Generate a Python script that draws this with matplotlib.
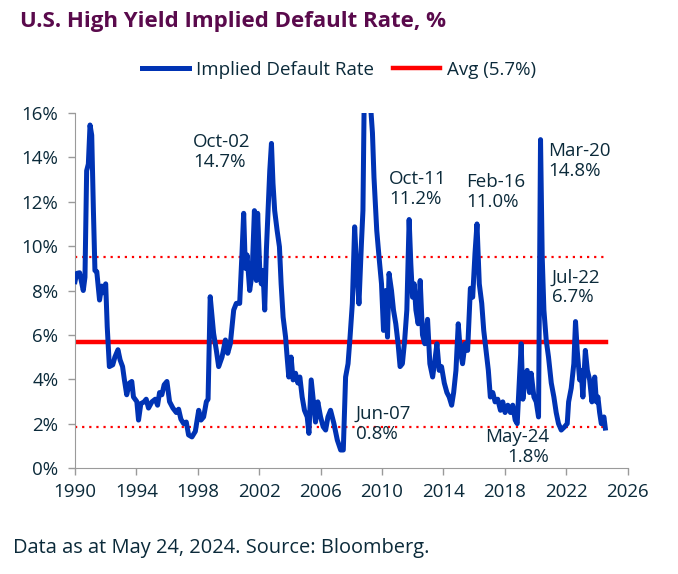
import matplotlib
matplotlib.use('Agg')
from matplotlib import pyplot as plt

# implied default rate (decimal year, %)
years = [
    1990.0, 1990.11, 1990.3, 1990.54, 1990.65, 1990.76, 1990.87, 1990.98, 1991.09, 1991.2,
    1991.3, 1991.42, 1991.6, 1991.74, 1991.85, 1992.0, 1992.1, 1992.24, 1992.46, 1992.6,
    1992.8, 1992.94, 1993.1, 1993.22, 1993.37, 1993.55, 1993.7, 1993.81, 1994.03, 1994.14,
    1994.29, 1994.5, 1994.64, 1994.79, 1995.01, 1995.23, 1995.38, 1995.51, 1995.66, 1995.81,
    1995.99, 1996.16, 1996.38, 1996.6, 1996.75, 1996.9, 1997.08, 1997.25, 1997.4, 1997.62,
    1997.84, 1998.06, 1998.21, 1998.38, 1998.56, 1998.67, 1998.81, 1999.03, 1999.21, 1999.36,
    1999.58, 1999.8, 1999.95, 2000.12, 2000.34, 2000.51, 2000.73, 2000.88, 2000.99, 2001.1,
    2001.21, 2001.38, 2001.54, 2001.69, 2001.82, 2001.9, 2002.03, 2002.14, 2002.25, 2002.36,
    2002.47, 2002.58, 2002.69, 2002.8, 2002.9, 2003.01, 2003.17, 2003.32, 2003.43, 2003.56,
    2003.72, 2003.82, 2003.93, 2004.08, 2004.21, 2004.37, 2004.52, 2004.65, 2004.8, 2004.95,
    2005.13, 2005.24, 2005.39, 2005.52, 2005.67, 2005.82, 2006.0, 2006.17, 2006.33, 2006.48,
    2006.65, 2006.87, 2007.09, 2007.31, 2007.48, 2007.63, 2007.79, 2007.92, 2008.07, 2008.22,
    2008.35, 2008.5, 2008.66, 2008.76, 2008.84, 2009.0, 2009.15, 2009.27, 2009.38, 2009.48,
    2009.66, 2009.81, 2009.97, 2010.1, 2010.25, 2010.36, 2010.46, 2010.62, 2010.75, 2010.9,
    2011.05, 2011.18, 2011.33, 2011.48, 2011.62, 2011.77, 2011.88, 2011.99, 2012.1, 2012.21,
    2012.36, 2012.49, 2012.64, 2012.79, 2012.97, 2013.12, 2013.3, 2013.45, 2013.58, 2013.73,
    2013.88, 2014.06, 2014.23, 2014.38, 2014.54, 2014.67, 2014.82, 2014.97, 2015.1, 2015.25,
    2015.41, 2015.58, 2015.76, 2015.91, 2016.06, 2016.19, 2016.34, 2016.5, 2016.63, 2016.78,
    2016.93, 2017.06, 2017.22, 2017.37, 2017.54, 2017.72, 2017.87, 2018.02, 2018.2, 2018.37,
    2018.52, 2018.68, 2018.81, 2018.96, 2019.07, 2019.18, 2019.33, 2019.46, 2019.61, 2019.72,
    2019.9, 2020.05, 2020.2, 2020.33, 2020.44, 2020.55, 2020.7, 2020.85, 2021.03, 2021.2,
    2021.35, 2021.5, 2021.68, 2021.9, 2022.07, 2022.16, 2022.33, 2022.5, 2022.61, 2022.72,
    2022.88, 2022.98, 2023.09, 2023.25, 2023.38, 2023.53, 2023.68, 2023.86, 2023.97, 2024.07,
    2024.18, 2024.29, 2024.46, 2024.55,
]
rate = [
    8.4, 8.77, 8.8, 8.0, 8.6, 13.4, 13.7, 15.46, 15.0, 11.6,
    8.9, 8.85, 7.57, 8.2, 7.9, 8.3, 6.37, 4.57, 4.65, 5.0,
    5.33, 4.87, 4.57, 3.97, 3.3, 3.83, 3.9, 3.2, 2.99, 2.16,
    2.9, 2.98, 3.1, 2.7, 2.98, 3.1, 2.83, 3.4, 3.3, 3.75,
    3.9, 2.99, 2.7, 2.5, 2.65, 2.2, 2.0, 2.07, 1.49, 1.4,
    1.65, 2.6, 2.16, 2.3, 2.99, 3.1, 7.72, 6.07, 5.3, 4.57,
    5.0, 5.77, 5.17, 5.6, 7.12, 7.42, 7.42, 9.67, 11.48, 9.0,
    9.6, 8.0, 8.77, 11.6, 8.45, 11.48, 9.07, 8.3, 8.9, 7.12,
    9.83, 11.6, 13.4, 14.63, 12.83, 11.6, 10.7, 9.97, 8.3, 6.8,
    5.9, 5.0, 4.1, 5.0, 3.97, 4.27, 3.83, 4.1, 3.2, 2.6,
    2.3, 1.56, 3.97, 3.1, 2.07, 2.98, 2.3, 1.86, 1.71, 2.3,
    2.6, 2.0, 1.26, 0.81, 0.81, 4.1, 4.7, 5.9, 7.42, 10.87,
    9.0, 7.4, 10.1, 11.6, 16.5, 20.0, 19.0, 16.2, 15.1, 13.1,
    10.7, 9.5, 8.3, 6.2, 8.0, 5.9, 8.77, 8.0, 7.12, 6.5,
    5.6, 4.57, 4.7, 5.77, 7.12, 11.2, 9.2, 7.7, 8.3, 7.12,
    6.5, 8.45, 6.0, 5.6, 6.7, 4.7, 4.1, 4.87, 5.6, 4.4,
    4.57, 3.83, 3.4, 3.2, 2.83, 3.4, 4.4, 6.5, 5.3, 4.7,
    5.6, 5.3, 8.1, 7.7, 9.67, 11.0, 8.3, 7.42, 6.2, 5.3,
    4.4, 3.2, 3.4, 2.98, 3.1, 2.6, 2.98, 2.5, 2.83, 2.5,
    2.83, 2.16, 2.0, 4.1, 5.6, 3.1, 4.1, 4.4, 3.4, 4.27,
    3.2, 2.98, 2.3, 14.8, 9.5, 7.12, 5.77, 5.0, 3.83, 3.2,
    2.5, 2.0, 1.71, 1.86, 2.0, 2.98, 3.6, 4.7, 6.6, 5.3,
    3.97, 4.4, 3.2, 5.3, 4.4, 3.97, 2.98, 4.1, 2.98, 3.2,
    2.5, 2.0, 2.3, 1.8,
]
avg = 5.7
upper = 9.52
lower = 1.86
avg_span = [1990, 2024.6]

xticks = [1990, 1994, 1998, 2002, 2006, 2010, 2014, 2018, 2022, 2026]
yticks = [0, 2, 4, 6, 8, 10, 12, 14, 16]

notes = [
    ('Oct-02\n14.7%', 1997.7, 15.1, 'left'),
    ('Oct-11\n11.2%', 2010.45, 13.45, 'left'),
    ('Feb-16\n11.0%', 2015.5, 13.3, 'left'),
    ('Mar-20\n14.8%', 2020.85, 14.7, 'left'),
    ('Jul-22\n6.7%', 2021.05, 9.0, 'left'),
    ('Jun-07\n0.8%', 2008.3, 2.85, 'left'),
    ('May-24\n1.8%', 2020.9, 1.8, 'right'),
]

txt = '#0b2a3a'
blue = '#0033b4'
red = '#ff0000'
plt.rcParams['font.family'] = ['Open Sans', 'DejaVu Sans']

fig = plt.figure(figsize=(6.78, 5.74), dpi=100)
ax = fig.add_axes([0.1106, 0.1847, 0.815, 0.6184])

ax.plot(years, rate, color=blue, lw=3.6, solid_joinstyle='round', zorder=3,
        label='Implied Default Rate')
ax.plot(avg_span, [avg, avg], color=red, lw=3.2, zorder=2, label='Avg (5.7%)')
ax.plot(avg_span, [upper, upper], color=red, lw=1.6, ls=(0, (1, 2.2)), zorder=2)
ax.plot(avg_span, [lower, lower], color=red, lw=1.6, ls=(0, (1, 2.2)), zorder=2)

ax.set_xlim(1990, 2026)
ax.set_ylim(0, 16)
ax.set_xticks(xticks)
ax.set_yticks(yticks)
ax.set_yticklabels([f'{v}%' for v in yticks])
ax.tick_params(colors='#9a9a9a', labelcolor=txt, labelsize=13.5, length=5, width=1)
ax.tick_params(axis='x', pad=6)
ax.tick_params(axis='y', pad=7)
for s in ['top', 'right']:
    ax.spines[s].set_visible(False)
for s in ['left', 'bottom']:
    ax.spines[s].set_color('#9a9a9a')

for label, x, y, ha in notes:
    ax.text(x, y, label, ha=ha, va='top', fontsize=13.5, color=txt,
            linespacing=1.15, multialignment=ha, zorder=4)

fig.text(0.0295, 0.962, 'U.S. High Yield Implied Default Rate, %', fontsize=16,
         fontweight='bold', color='#5a0a4c', va='center')
leg = fig.legend(loc='center', bbox_to_anchor=(0.5, 0.878), ncol=2, frameon=False,
                 fontsize=13.5, handlelength=2.5, handletextpad=0.4, columnspacing=1.0)
for t in leg.get_texts():
    t.set_color(txt)
fig.text(0.019, 0.0453, 'Data as at May 24, 2024. Source: Bloomberg.', fontsize=14.4,
         color=txt, va='center')

fig.savefig('out.png', dpi=100)
